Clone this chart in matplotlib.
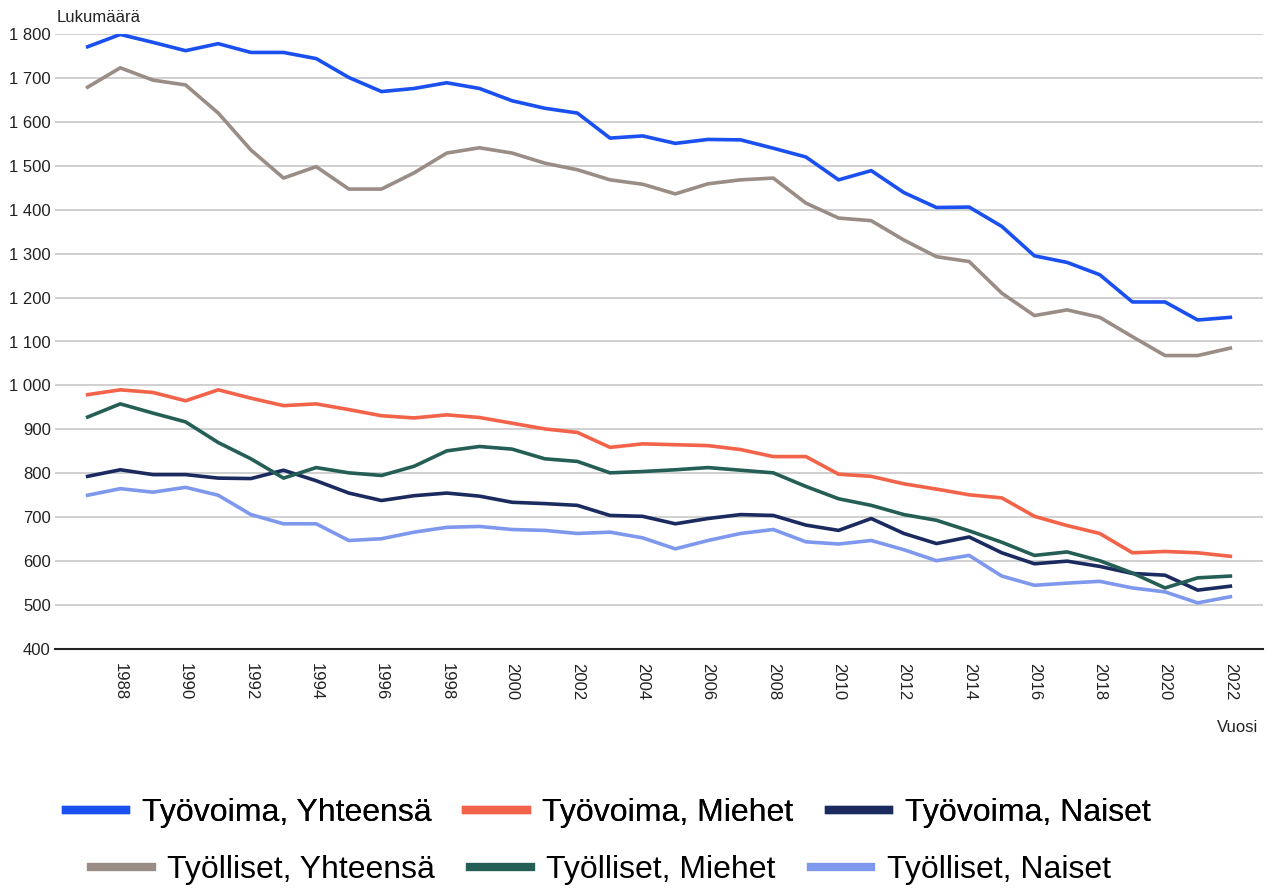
import matplotlib
matplotlib.use("Agg")
from matplotlib import pyplot
import matplotlib.ticker as ticker
from matplotlib.lines import Line2D

pyplot.rcParams['font.family'] = ['Liberation Sans', 'DejaVu Sans']

years = list(range(1987, 2023))

tyovoima_yht = [1771, 1799, 1781, 1762, 1778, 1758, 1758, 1744, 1701, 1669,
                1676, 1689, 1676, 1648, 1631, 1620, 1563, 1568, 1551, 1560,
                1559, 1540, 1520, 1468, 1489, 1439, 1405, 1406, 1362, 1295,
                1280, 1252, 1190, 1190, 1149, 1155]
tyovoima_miehet = [979, 990, 984, 965, 990, 971, 954, 958, 945, 931,
                   926, 933, 927, 914, 901, 893, 859, 867, 865, 863,
                   854, 838, 838, 798, 793, 776, 764, 751, 744, 702,
                   681, 663, 619, 622, 619, 611]
tyovoima_naiset = [793, 808, 797, 797, 789, 788, 807, 783, 755, 738,
                   749, 755, 748, 734, 731, 727, 704, 702, 685, 697,
                   706, 704, 682, 670, 697, 663, 640, 655, 619, 594,
                   600, 588, 572, 568, 534, 543]
tyolliset_yht = [1679, 1723, 1695, 1684, 1620, 1536, 1472, 1498, 1447, 1447,
                 1484, 1529, 1541, 1529, 1506, 1491, 1468, 1458, 1436, 1459,
                 1468, 1472, 1415, 1381, 1375, 1331, 1293, 1282, 1210, 1159,
                 1172, 1155, 1111, 1068, 1068, 1085]
tyolliset_miehet = [928, 958, 937, 917, 870, 833, 789, 813, 801, 795,
                    816, 851, 861, 855, 833, 827, 801, 804, 808, 813,
                    807, 801, 770, 742, 727, 706, 693, 669, 643, 613,
                    621, 601, 573, 539, 562, 566]
tyolliset_naiset = [750, 765, 757, 768, 750, 706, 685, 685, 647, 651,
                    666, 677, 679, 672, 670, 663, 666, 653, 628, 647,
                    663, 672, 644, 639, 647, 626, 601, 613, 566, 545,
                    550, 554, 539, 530, 505, 519]

series = [
    ("Työvoima, Yhteensä", tyovoima_yht, "#1a4ff0"),
    ("Työvoima, Miehet", tyovoima_miehet, "#f26349"),
    ("Työvoima, Naiset", tyovoima_naiset, "#1b2b60"),
    ("Työlliset, Yhteensä", tyolliset_yht, "#9a8d85"),
    ("Työlliset, Miehet", tyolliset_miehet, "#245e55"),
    ("Työlliset, Naiset", tyolliset_naiset, "#7e98ee"),
]

fig = pyplot.figure(figsize=(12.69, 8.91), dpi=100)
ax = fig.add_axes([55/1269, 1-649/891, (1263-55)/1269, (649-34)/891])

for name, vals, col in series:
    ax.plot(years, vals, color=col, linewidth=2.6, solid_joinstyle='round')

ax.set_xlim(1986, 2023)
ax.set_ylim(400, 1800)
ax.yaxis.set_major_locator(ticker.MultipleLocator(100))
ax.yaxis.set_major_formatter(ticker.FuncFormatter(lambda v, p: f"{v:,.0f}".replace(",", " ")))
ax.set_xticks(list(range(1988, 2023, 2)))
ax.set_xticklabels([str(y) for y in range(1988, 2023, 2)], rotation=270, va='top', ha='center')

ax.grid(axis='y', color='#c8c8c8', linewidth=1.2)
ax.set_axisbelow(True)
for s in ['top', 'right', 'left']:
    ax.spines[s].set_visible(False)
ax.spines['bottom'].set_color('#222222')
ax.spines['bottom'].set_linewidth(1.5)
ax.spines['bottom'].set_zorder(3)
ax.tick_params(axis='both', length=0, labelsize=12, colors='#222222')
ax.tick_params(axis='y', pad=3)
ax.tick_params(axis='x', pad=10)

fig.text(57/1269, 1-18/891, "Lukumäärä", fontsize=12, color='#222222', va='center', ha='left')
fig.text(1258/1269, 1-727/891, "Vuosi", fontsize=12, color='#222222', va='center', ha='right')

handles = [Line2D([0], [0], color=c, linewidth=6) for _, _, c in series]
labels = [n for n, _, _ in series]
opts = dict(ncol=3, frameon=False, fontsize=23, handlelength=1.9, handletextpad=0.48,
            columnspacing=1.1, borderpad=0, loc='center')
leg1 = fig.legend(handles[:3], labels[:3], bbox_to_anchor=(608/1269, 1-813/891), **opts)
fig.add_artist(leg1)
fig.legend(handles[3:], labels[3:], bbox_to_anchor=(601/1269, 1-870/891), **opts)

fig.savefig('out.png', dpi=100)
